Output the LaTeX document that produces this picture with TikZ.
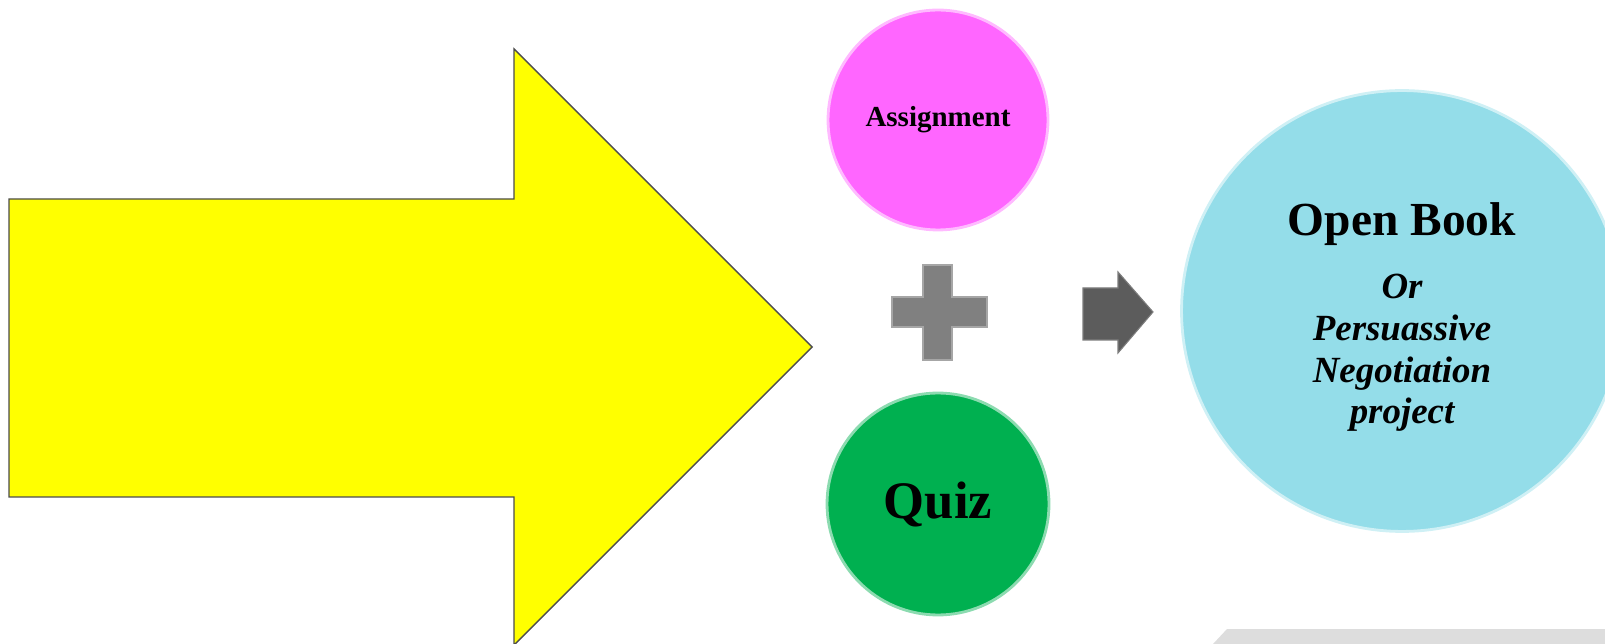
\documentclass[tikz,border=0pt]{standalone}
\usepackage{fontspec}
\setmainfont{Liberation Serif}

\definecolor{arrowyellow}{RGB}{255,255,0}
\definecolor{assignpink}{RGB}{255,102,255}
\definecolor{quizgreen}{RGB}{0,176,80}
\definecolor{bookblue}{RGB}{148,221,233}
\definecolor{plusgray}{RGB}{128,128,128}
\definecolor{nextgray}{RGB}{92,92,92}
\definecolor{bargray}{RGB}{221,221,221}

\begin{document}
\begin{tikzpicture}[
  x=0.02cm, y=-0.02cm,
  bubble/.style    = {circle, inner sep=0pt, line width=1.6pt, align=center},
  booktext/.style  = {align=center, inner sep=0pt,
                      font=\fontsize{21}{23.8}\selectfont\bfseries\itshape},
  bigarrow/.style  = {fill=arrowyellow, draw=black!70, line width=0.8pt, line join=miter},
  sign/.style      = {fill=plusgray, draw=plusgray!70!white, line width=0.6pt},
  next/.style      = {fill=nextgray, draw=nextgray!80!white, line width=0.6pt},
]
  \useasboundingbox (0,0) rectangle (1605,644);
  \clip (0,0) rectangle (1605,644);

  % the big yellow block arrow on the left
  \draw[bigarrow] (9,199) -- (514,199) -- (514,49) -- (812,347)
    -- (514,645) -- (514,497) -- (9,497) -- cycle;

  \node[bubble, fill=assignpink, draw=assignpink!45!white,
        minimum size=4.4cm, font=\fontsize{16.5}{18}\selectfont\bfseries]
    (assign) at (938,120) {\raisebox{-2pt}{Assignment}};
  \node[bubble, fill=quizgreen, draw=quizgreen!45!white,
        minimum size=4.44cm, font=\fontsize{30}{32}\selectfont\bfseries]
    (quiz) at (938,504) {Quiz};

  % plus between the two small bubbles
  \draw[sign] (923,265) -- (952,265) -- (952,297) -- (987,297) -- (987,327)
    -- (952,327) -- (952,360) -- (923,360) -- (923,327) -- (892,327)
    -- (892,297) -- (923,297) -- cycle;

  % small arrow towards the result
  \draw[next] (1083,288) -- (1118,288) -- (1118,272) -- (1153,312)
    -- (1118,353) -- (1118,340) -- (1083,340) -- cycle;

  \node[bubble, fill=bookblue, draw=bookblue!45!white,
        minimum size=8.82cm] (book) at (1402,311) {};
  \node[booktext] (booklbl) at ([yshift=-3.5pt]book.center)
    {{\fontsize{27}{27}\selectfont\upshape Open Book}\\[12pt]
     Or\\Persuassive\\Negotiation\\project};

  \fill[bargray] (1213,644) -- (1227,629) -- (1605,629) -- (1605,644) -- cycle;
\end{tikzpicture}
\end{document}
